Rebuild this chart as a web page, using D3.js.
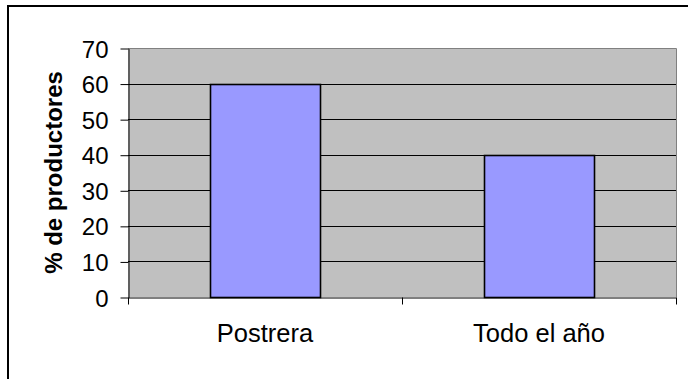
<!DOCTYPE html>
<html><head><meta charset="utf-8">
<script src="https://cdn.jsdelivr.net/npm/d3@7"></script>
<style>body{margin:0;background:#fff}svg{display:block}</style>
</head><body>
<script>
const categories = ["Postrera", "Todo el año"];
const values = [60, 40];
const yTicks = [0, 10, 20, 30, 40, 50, 60, 70];
const yTitle = "% de productores";

const W = 688, H = 379;
const m = {left: 128, top: 48, right: 676, bottom: 297};
const svg = d3.select("body").append("svg").attr("width", W).attr("height", H);
const font = "Arial, 'Liberation Sans', sans-serif";

svg.append("rect").attr("x", 8).attr("y", 6).attr("width", 720).attr("height", 420)
  .attr("fill", "#fff").attr("stroke", "#000").attr("stroke-width", 2);

const x = d3.scaleBand().domain(categories).range([m.left, m.right]).paddingInner(0).paddingOuter(0);
const y = d3.scaleLinear().domain([0, 70]).range([m.bottom, m.top]);

svg.append("rect").attr("x", m.left).attr("y", m.top).attr("width", m.right - m.left)
  .attr("height", m.bottom - m.top).attr("fill", "#C0C0C0");

// gridlines
svg.append("g").selectAll("line").data(yTicks.filter(d => d > 0 && d < 70)).join("line")
  .attr("x1", m.left).attr("x2", m.right)
  .attr("y1", d => Math.round(y(d)) + 0.5).attr("y2", d => Math.round(y(d)) + 0.5)
  .attr("stroke", "#000").attr("stroke-width", 1);

// plot border top/right
svg.append("path").attr("d", `M${m.left},${m.top + 0.5}H${m.right + 0.5}V${m.bottom}`)
  .attr("fill", "none").attr("stroke", "#808080").attr("stroke-width", 1);

// bars
const bw = x.bandwidth() * 0.4;
svg.append("g").selectAll("rect").data(values).join("rect")
  .attr("x", (d, i) => Math.round(x(categories[i]) + x.bandwidth() / 2 - bw / 2) + 0.5)
  .attr("y", d => Math.round(y(d)) + 0.5)
  .attr("width", Math.round(bw))
  .attr("height", d => Math.round(y(0)) - Math.round(y(d)))
  .attr("fill", "#9999FF").attr("stroke", "#000").attr("stroke-width", 1.6);

// y axis
const yAxis = d3.axisLeft(y).tickValues(yTicks).tickSize(8).tickPadding(12).tickSizeOuter(0);
const gy = svg.append("g").attr("transform", `translate(${m.left + 0.5},0.5)`).call(yAxis);
gy.selectAll("text").attr("font-family", font).attr("font-size", 24).attr("fill", "#000").attr("dy", "0.36em");
gy.selectAll("line,path").attr("stroke", "#000");

// x axis
const xAxis = d3.axisBottom(x).tickSize(0).tickPadding(0).tickSizeOuter(0);
const gx = svg.append("g").attr("transform", `translate(0,${m.bottom + 0.5})`).call(xAxis);
gx.select(".domain").attr("stroke", "#000");
gx.selectAll("text").attr("font-family", font).attr("font-size", 25.5).attr("fill", "#000")
  .attr("dy", 0).attr("y", 44);
// category boundary ticks
gx.append("g").selectAll("line").data([m.left, (m.left + m.right) / 2, m.right]).join("line")
  .attr("x1", d => Math.round(d) + 0.5).attr("x2", d => Math.round(d) + 0.5)
  .attr("y1", 0).attr("y2", 7).attr("stroke", "#000");

svg.append("text").attr("transform", `translate(62,${(m.top + m.bottom) / 2}) rotate(-90)`)
  .attr("text-anchor", "middle").attr("font-family", font).attr("font-weight", "bold")
  .attr("font-size", 24).attr("fill", "#000").text(yTitle);
</script>
</body></html>
